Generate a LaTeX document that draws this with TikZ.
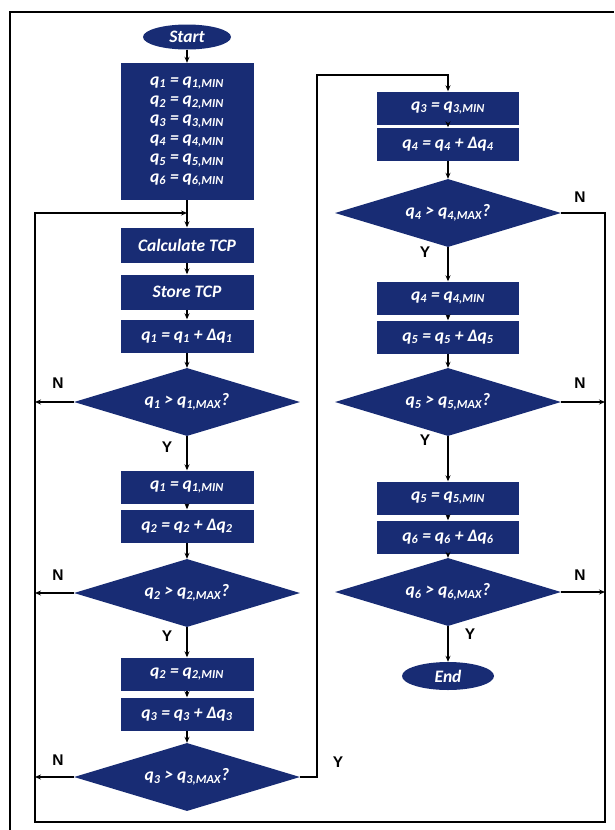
\documentclass[tikz,border=0pt]{standalone}
\usepackage{fontspec}
\setmainfont{Carlito}
\newfontfamily\lblfont{Liberation Sans}
\usetikzlibrary{shapes.geometric,arrows.meta}
\definecolor{boxblue}{RGB}{24,44,116}
\newcommand{\qs}[1]{q\textsubscript{#1}}
\begin{document}
\begin{tikzpicture}[x=1pt,y=-1pt,
  every node/.style={font=\fontsize{17.5}{19.4}\selectfont\bfseries\itshape},
  box/.style={rectangle,fill=boxblue,text=white,minimum width=133pt,minimum height=33pt,inner sep=0pt,align=center},
  rbox/.style={box,minimum width=142pt},
  dec/.style={diamond,fill=boxblue,text=white,aspect=3.4,minimum width=226pt,minimum height=68pt,inner sep=0pt},
  term/.style={ellipse,fill=boxblue,text=white,minimum width=88pt,minimum height=25pt,inner sep=0pt},
  yn/.style={font=\lblfont\fontsize{15.5}{17}\selectfont\bfseries},
  line/.style={line width=1.3pt,-{Stealth[length=6pt,width=5pt]}},
  wire/.style={line width=1.3pt}]
\useasboundingbox (0,0) rectangle (614,830);
% frame
\draw [line width=1.4pt] (10,830) -- (10,12) -- (614,12);
% left column
\node [term] (start) at (187,37) {Start};
\node [box,minimum height=137pt] (init) at (187,131.5)
  {\qs{1} = \qs{1,MIN}\\ \qs{2} = \qs{2,MIN}\\ \qs{3} = \qs{3,MIN}\\
   \qs{4} = \qs{4,MIN}\\ \qs{5} = \qs{5,MIN}\\ \qs{6} = \qs{6,MIN}};
\node [box,minimum height=35pt] (calc) at (187,245) {Calculate TCP};
\node [box,minimum height=35pt] (store) at (187,292) {Store TCP};
\node [box] (inc1) at (187,336) {\qs{1} = \qs{1} + Δ\qs{1}};
\node [dec] (d1) at (187,402) {\qs{1} > \qs{1,MAX}?};
\node [box] (min1) at (187,487) {\qs{1} = \qs{1,MIN}};
\node [box] (inc2) at (187,526) {\qs{2} = \qs{2} + Δ\qs{2}};
\node [dec] (d2) at (187,593) {\qs{2} > \qs{2,MAX}?};
\node [box] (min2) at (187,674) {\qs{2} = \qs{2,MIN}};
\node [box] (inc3) at (187,714) {\qs{3} = \qs{3} + Δ\qs{3}};
\node [dec] (d3) at (187,777) {\qs{3} > \qs{3,MAX}?};
% right column
\node [rbox] (min3) at (448,108) {\qs{3} = \qs{3,MIN}};
\node [rbox] (inc4) at (448,144) {\qs{4} = \qs{4} + Δ\qs{4}};
\node [dec] (d4) at (448,213) {\qs{4} > \qs{4,MAX}?};
\node [rbox] (min4) at (448,298) {\qs{4} = \qs{4,MIN}};
\node [rbox] (inc5) at (448,337) {\qs{5} = \qs{5} + Δ\qs{5}};
\node [dec] (d5) at (448,402) {\qs{5} > \qs{5,MAX}?};
\node [rbox] (min5) at (448,498) {\qs{5} = \qs{5,MIN}};
\node [rbox] (inc6) at (448,537) {\qs{6} = \qs{6} + Δ\qs{6}};
\node [dec] (d6) at (448,592) {\qs{6} > \qs{6,MAX}?};
\node [term,minimum width=92pt,minimum height=28pt] (stop) at (448,676) {End};
% loop corners
\coordinate (join) at (187,213);
\coordinate (ltop) at (35,213);
\coordinate (lbot) at (35,822);
\coordinate (rtop) at (605,213);
\coordinate (rbot) at (605,822);
\coordinate (ybend) at (317,75);
% flow
\draw [line] (start) -- (init);
\draw [wire] (init) -- (join);
\draw [line] (join) -- (calc);
\draw [line] (calc) -- (store);
\draw [line] (store) -- (inc1);
\draw [line] (inc1) -- (d1);
\draw [line] (d1) -- (min1);
\draw [line] (min1) -- (inc2);
\draw [line] (inc2) -- (d2);
\draw [line] (d2) -- (min2);
\draw [line] (min2) -- (inc3);
\draw [line] (inc3) -- (d3);
\draw [line] (d3.east) -| (ybend) -| (min3.north);
\draw [line] (min3) -- (inc4);
\draw [line] (inc4) -- (d4);
\draw [line] (d4) -- (min4);
\draw [line] (min4) -- (inc5);
\draw [line] (inc5) -- (d5);
\draw [line] (d5) -- (min5);
\draw [line] (min5) -- (inc6);
\draw [line] (inc6) -- (d6);
\draw [line] (d6) -- (stop);
% N branches
\draw [line] (d1.west) -- (d1.west -| ltop);
\draw [line] (d2.west) -- (d2.west -| ltop);
\draw [line] (d3.west) -- (d3.west -| ltop);
\draw [line] (d5.east) -- (d5.east -| rtop);
\draw [line] (d6.east) -- (d6.east -| rtop);
\draw [line] (d4.east) -- (rtop) -- (rbot) -- (lbot) -- (ltop) -- (join);
% labels
\node [yn] (n1) at (58,383) {N};
\node [yn] (n2) at (58,575) {N};
\node [yn] (n3) at (58,760) {N};
\node [yn] (n4) at (580,197) {N};
\node [yn] (n5) at (580,383) {N};
\node [yn] (n6) at (580,575) {N};
\node [yn] (y1) at (167,447) {Y};
\node [yn] (y2) at (167,636) {Y};
\node [yn] (y3) at (338,762) {Y};
\node [yn] (y4) at (425,252) {Y};
\node [yn] (y5) at (425,440) {Y};
\node [yn] (y6) at (470,634) {Y};
\end{tikzpicture}
\end{document}
